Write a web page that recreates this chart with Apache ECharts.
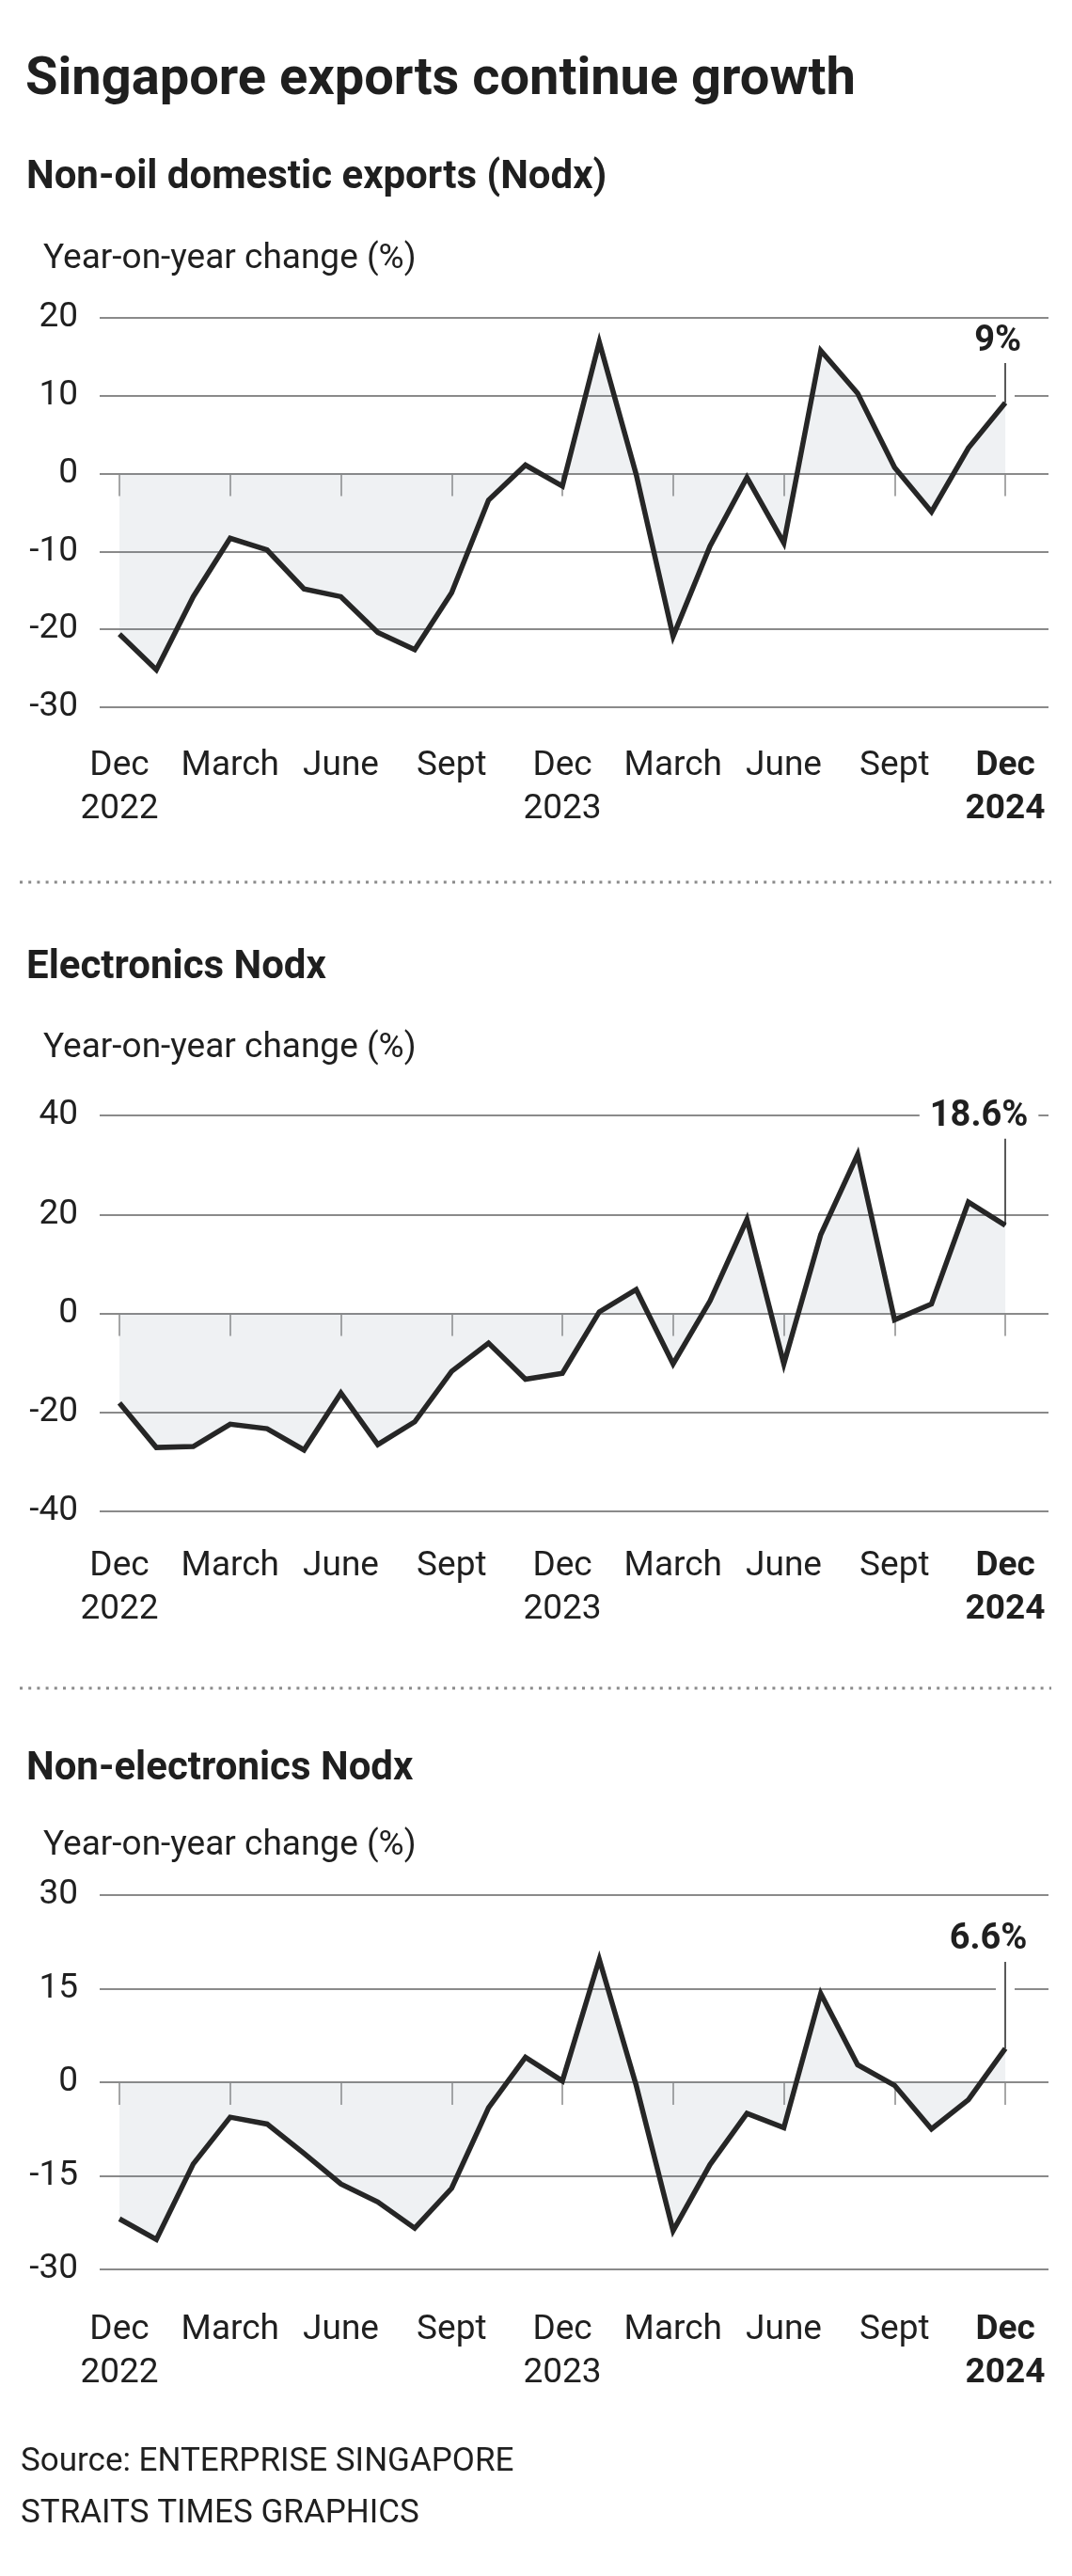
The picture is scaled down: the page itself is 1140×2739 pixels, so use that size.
<!DOCTYPE html>
<html>
<head>
<meta charset="utf-8">
<script src="https://cdn.jsdelivr.net/npm/echarts@6/dist/echarts.min.js"></script>
<style>
  html, body { margin: 0; padding: 0; background: #fff; }
  #chart { width: 1140px; height: 2739px; }
</style>
</head>
<body>
<div id="chart"></div>
<script>
// ---------- DATA ----------
const tickMonths = [0, 3, 6, 9, 12, 15, 18, 21, 24];
const tickLabels = ['Dec\n2022', 'March', 'June', 'Sept', 'Dec\n2023', 'March', 'June', 'Sept', 'Dec\n2024'];

// Monthly year-on-year change (%), Dec 2022 .. Dec 2024
const nodx = [-20.6, -25.2, -15.8, -8.3, -9.8, -14.8, -15.8, -20.4, -22.6, -15.3, -3.4, 1.1, -1.6,
              16.9, -0.1, -20.9, -9.3, -0.5, -8.9, 15.8, 10.3, 0.8, -4.9, 3.3, 9.1];
const electronics = [-18.1, -27.1, -26.9, -22.4, -23.3, -27.6, -16.1, -26.5, -21.9, -11.7, -6.0, -13.3, -12.1,
                     0.3, 4.8, -10.2, 2.5, 19.0, -10.2, 15.9, 32.1, -1.3, 1.9, 22.5, 17.8];
const nonElectronics = [-21.9, -25.2, -13.1, -5.6, -6.7, -11.4, -16.3, -19.2, -23.4, -17.0, -4.1, 4.0, 0.2,
                        19.7, -0.5, -23.8, -13.2, -5.0, -7.3, 14.2, 2.8, -0.5, -7.5, -2.8, 5.4];

const chartTitles = ['Non-oil domestic exports (Nodx)', 'Electronics Nodx', 'Non-electronics Nodx'];
const latestLabels = ['9%', '18.6%', '6.6%'];
const yTicks = [
  { min: -30, max: 20, interval: 10 },
  { min: -40, max: 40, interval: 20 },
  { min: -30, max: 30, interval: 15 }
];

// ---------- LAYOUT / STYLE ----------
const FONT = 'Roboto, "Noto Sans", sans-serif';
const INK = '#1f1f1f';
const GRID_GREY = '#8a8a8a';
const panels = [
  { top: 338,  height: 414, headBase: 201,  yoyBase: 286,  labelMargin: 40, leaderTop: 14.2, labelOffset: [-8, 0],  labelBg: false, gap: true },
  { top: 1186, height: 421, headBase: 1041, yoyBase: 1125, labelMargin: 36, leaderTop: 35.3, labelOffset: [-28, 0], labelBg: true,  gap: false },
  { top: 2015, height: 398, headBase: 1893, yoyBase: 1973, labelMargin: 42, leaderTop: 19.3, labelOffset: [-18, 0], labelBg: false, gap: true }
];
const seriesData = [nodx, electronics, nonElectronics];

function txt(str, x, baseline, size, weight) {
  return {
    type: 'text', x: x, y: baseline - 0.30 * size, silent: true,
    style: { text: str, fill: INK, font: weight + ' ' + size + 'px ' + FONT, verticalAlign: 'middle', align: 'left' }
  };
}

const grids = [], xAxes = [], yAxes = [], series = [];
const graphics = [];
graphics.push(txt('Singapore exports continue growth', 27, 103, 56, 'bold'));

panels.forEach((p, k) => {
  grids.push({ left: 106, width: 1009, top: p.top, height: p.height });
  graphics.push(txt(chartTitles[k], 28, p.headBase + 1, 42, 'bold'));
  graphics.push(txt('Year-on-year change (%)', 46, p.yoyBase + 1, 37, 'normal'));

  xAxes.push({
    type: 'value', gridIndex: k, min: -0.535, max: 25.17,
    splitLine: { show: false },
    axisLine: { show: false },
    axisTick: { show: true, customValues: tickMonths, length: 24, lineStyle: { color: GRID_GREY, width: 1.5 } },
    axisLabel: {
      show: true, customValues: tickMonths, margin: p.labelMargin,
      fontFamily: FONT, fontSize: 37, lineHeight: 46, color: INK,
      formatter: function (v) {
        const idx = tickMonths.indexOf(Math.round(v));
        if (idx < 0) return '';
        const s = tickLabels[idx];
        if (idx === tickLabels.length - 1) {
          return s.split('\n').map(t => '{b|' + t + '}').join('\n');
        }
        return s;
      },
      rich: { b: { fontWeight: 'bold', fontFamily: FONT, fontSize: 37, lineHeight: 46, color: INK } }
    }
  });

  yAxes.push({
    type: 'value', gridIndex: k,
    min: yTicks[k].min, max: yTicks[k].max, interval: yTicks[k].interval,
    axisLine: { show: false }, axisTick: { show: false },
    splitLine: { show: true, lineStyle: { color: GRID_GREY, width: 2 } },
    axisLabel: { fontFamily: FONT, fontSize: 37, color: INK, margin: 23 }
  });

  const vals = seriesData[k];
  const last = vals.length - 1;
  const unitsPerPx = (yTicks[k].max - yTicks[k].min) / p.height;
  const mlData = [];
  if (p.gap) {
    mlData.push([
      { coord: [last, vals[last] + 5 * unitsPerPx], lineStyle: { color: '#ffffff', width: 20, type: 'solid' }, label: { show: false } },
      { coord: [last, p.leaderTop] }
    ]);
  }
  mlData.push([
    { coord: [last, vals[last]], lineStyle: { color: '#222', width: 1.5, type: 'solid' },
      label: {
        show: true, position: 'end', formatter: latestLabels[k], distance: 4,
        fontFamily: FONT, fontWeight: 'bold', fontSize: 38, color: INK,
        offset: p.labelOffset,
        backgroundColor: p.labelBg ? '#ffffff' : 'transparent',
        padding: p.labelBg ? [0, 11] : 0
      } },
    { coord: [last, p.leaderTop] }
  ]);
  series.push({
    type: 'line', xAxisIndex: k, yAxisIndex: k,
    data: vals.map((v, i) => [i, v]),
    symbol: 'none', silent: true,
    lineStyle: { color: '#262626', width: 5.5, join: 'miter' },
    areaStyle: { color: 'rgba(115,135,150,0.17)', origin: 0 },
    markLine: { silent: true, symbol: ['none', 'none'], animation: false, data: mlData }
  });
});

// dotted separators
[938, 1795].forEach(y => {
  graphics.push({
    type: 'line', silent: true,
    shape: { x1: 21, y1: y, x2: 1118, y2: y },
    style: { stroke: '#8a8a8a', lineWidth: 3, lineDash: [3, 6.2] }
  });
});

// source lines
graphics.push(txt('Source: ENTERPRISE SINGAPORE', 22, 2629, 35, 'normal'));
graphics.push(txt('STRAITS TIMES GRAPHICS', 22, 2684, 35, 'normal'));

const chart = echarts.init(document.getElementById('chart'), null, { renderer: 'canvas' });
chart.setOption({
  animation: false,
  backgroundColor: '#ffffff',
  grid: grids, xAxis: xAxes, yAxis: yAxes, series: series,
  graphic: graphics
});
</script>
</body>
</html>
